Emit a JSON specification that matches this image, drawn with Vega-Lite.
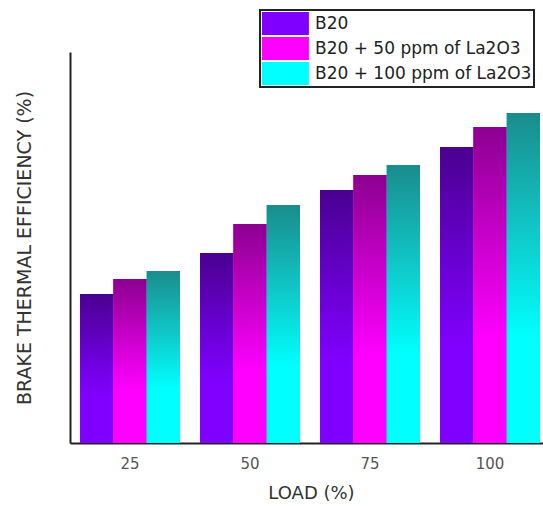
{
  "$schema": "https://vega.github.io/schema/vega-lite/v6.json",
  "width": 473,
  "height": 391,
  "autosize": {"type": "none"},
  "padding": {"left": 70, "top": 52, "right": 0, "bottom": 63},
  "background": "white",
  "data": {
    "values": [
      {"load": "25", "series": "B20", "bte": 15.24},
      {"load": "25", "series": "B20 + 50 ppm of La2O3", "bte": 16.78},
      {"load": "25", "series": "B20 + 100 ppm of La2O3", "bte": 17.6},
      {"load": "50", "series": "B20", "bte": 19.44},
      {"load": "50", "series": "B20 + 50 ppm of La2O3", "bte": 22.4},
      {"load": "50", "series": "B20 + 100 ppm of La2O3", "bte": 24.35},
      {"load": "75", "series": "B20", "bte": 25.88},
      {"load": "75", "series": "B20 + 50 ppm of La2O3", "bte": 27.42},
      {"load": "75", "series": "B20 + 100 ppm of La2O3", "bte": 28.44},
      {"load": "100", "series": "B20", "bte": 30.28},
      {"load": "100", "series": "B20 + 50 ppm of La2O3", "bte": 32.33},
      {"load": "100", "series": "B20 + 100 ppm of La2O3", "bte": 33.76}
    ]
  },
  "encoding": {
    "x": {
      "field": "load",
      "type": "ordinal",
      "sort": ["25", "50", "75", "100"],
      "scale": {"paddingInner": 0.1667, "paddingOuter": 0.054, "align": 0.77},
      "axis": {
        "title": "LOAD (%)",
        "labelAngle": 0,
        "labelFont": "DejaVu Sans",
        "labelFontSize": 15,
        "labelColor": "#555555",
        "labelPadding": 13,
        "ticks": false,
        "domainColor": "#222222",
        "domainWidth": 2,
        "titleFont": "DejaVu Sans",
        "titleFontSize": 18,
        "titleFontWeight": "normal",
        "titleColor": "#333333",
        "titlePadding": 13,
        "titleX": 241
      }
    },
    "xOffset": {
      "field": "series",
      "type": "nominal",
      "sort": ["B20", "B20 + 50 ppm of La2O3", "B20 + 100 ppm of La2O3"],
      "scale": {"paddingInner": 0, "paddingOuter": 0}
    },
    "y": {
      "field": "bte",
      "type": "quantitative",
      "stack": null,
      "scale": {"domain": [0, 40], "nice": false},
      "axis": {
        "title": "BRAKE THERMAL EFFICIENCY (%)",
        "labels": false,
        "ticks": false,
        "grid": false,
        "domainColor": "#222222",
        "domainWidth": 2,
        "titleFont": "DejaVu Sans",
        "titleFontSize": 19,
        "titleFontWeight": "normal",
        "titleColor": "#333333",
        "titlePadding": 36
      }
    }
  },
  "layer": [
    {
      "mark": {"type": "bar", "strokeWidth": 0},
      "encoding": {
        "color": {
          "field": "series",
          "type": "nominal",
          "sort": ["B20", "B20 + 50 ppm of La2O3", "B20 + 100 ppm of La2O3"],
          "scale": {"range": ["#8000ff", "#ff00ff", "#00ffff"]},
          "legend": {
            "title": null,
            "orient": "none",
            "legendX": 190,
            "legendY": -42,
            "direction": "vertical",
            "fillColor": "white",
            "strokeColor": "#222222",
            "padding": 2,
            "rowPadding": 2,
            "symbolType": "M-1,-1H3.08V1H-1Z",
            "symbolSize": 529,
            "symbolStrokeWidth": 0,
            "symbolOpacity": 1,
            "labelFont": "DejaVu Sans",
            "labelFontSize": 17,
            "labelColor": "#222222",
            "labelOffset": 30,
            "labelLimit": 400,
            "encode": {
              "legend": {"update": {"strokeWidth": {"value": 2}}}
            }
          }
        }
      }
    },
    {
      "transform": [{"filter": "datum.series === 'B20'"}],
      "mark": {
        "type": "bar",
        "strokeWidth": 0,
        "fill": {
          "gradient": "linear", "x1": 0, "y1": 0, "x2": 0, "y2": 1,
          "stops": [
            {"offset": 0, "color": "#4a0090"},
            {"offset": 0.35, "color": "#6600cc"},
            {"offset": 0.68, "color": "#8000ff"},
            {"offset": 1, "color": "#8000ff"}
          ]
        }
      }
    },
    {
      "transform": [{"filter": "datum.series === 'B20 + 50 ppm of La2O3'"}],
      "mark": {
        "type": "bar",
        "strokeWidth": 0,
        "fill": {
          "gradient": "linear", "x1": 0, "y1": 0, "x2": 0, "y2": 1,
          "stops": [
            {"offset": 0, "color": "#8c0090"},
            {"offset": 0.35, "color": "#c800ca"},
            {"offset": 0.68, "color": "#ff00ff"},
            {"offset": 1, "color": "#ff00ff"}
          ]
        }
      }
    },
    {
      "transform": [{"filter": "datum.series === 'B20 + 100 ppm of La2O3'"}],
      "mark": {
        "type": "bar",
        "strokeWidth": 0,
        "fill": {
          "gradient": "linear", "x1": 0, "y1": 0, "x2": 0, "y2": 1,
          "stops": [
            {"offset": 0, "color": "#1a8c8c"},
            {"offset": 0.35, "color": "#10c6c6"},
            {"offset": 0.68, "color": "#00ffff"},
            {"offset": 1, "color": "#00ffff"}
          ]
        }
      }
    }
  ],
  "config": {
    "view": {"stroke": null}
  }
}
